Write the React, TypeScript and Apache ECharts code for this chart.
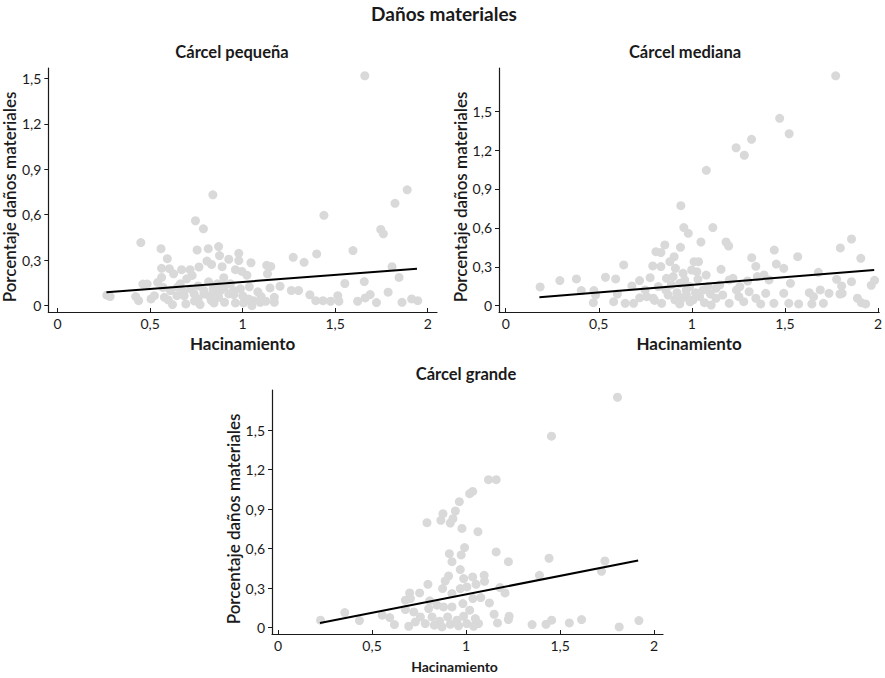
import React, { useEffect, useRef } from "react";
import * as echarts from "echarts";

const mainTitle = "Daños materiales";
const panelTitles = ["Cárcel pequeña", "Cárcel mediana", "Cárcel grande"];
const xName = "Hacinamiento";
const yName = "Porcentaje daños materiales";
const xTicks = [0, 0.5, 1, 1.5, 2];
const yTicks = [0, 0.3, 0.6, 0.9, 1.2, 1.5];

const smallPoints: number[][] = [
  [1.66, 1.517], [0.839, 0.731], [1.889, 0.764], [1.823, 0.675], [1.439, 0.596], [0.745, 0.56], [0.788, 0.507],
  [1.746, 0.503], [1.76, 0.474], [0.45, 0.416], [0.559, 0.376], [0.754, 0.367], [0.814, 0.376], [0.87, 0.39],
  [0.979, 0.345], [1.596, 0.363], [1.4, 0.341], [1.273, 0.319], [1.332, 0.286], [0.593, 0.31], [0.875, 0.33],
  [0.925, 0.306], [0.979, 0.297], [1.045, 0.283], [0.807, 0.294], [0.832, 0.272], [0.764, 0.255], [0.889, 0.257],
  [0.562, 0.246], [0.604, 0.244], [0.67, 0.237], [0.716, 0.237], [0.627, 0.21], [0.727, 0.199], [0.961, 0.237],
  [0.996, 0.226], [1.023, 0.201], [1.13, 0.266], [1.152, 0.259], [1.134, 0.21], [1.807, 0.257], [1.845, 0.186],
  [1.657, 0.159], [1.552, 0.146], [0.562, 0.186], [0.541, 0.153], [0.461, 0.142], [0.484, 0.142], [0.663, 0.144],
  [0.698, 0.177], [0.816, 0.157], [0.863, 0.144], [0.898, 0.184], [0.934, 0.144], [1.036, 0.124], [1.082, 0.091],
  [1.148, 0.117], [1.202, 0.128], [1.263, 0.1], [1.302, 0.1], [1.363, 0.071], [1.786, 0.089], [1.689, 0.073],
  [0.266, 0.069], [0.284, 0.06], [0.422, 0.06], [0.438, 0.033], [0.505, 0.044], [0.523, 0.066], [0.577, 0.055],
  [0.598, 0.038], [0.621, 0.007], [0.645, 0.066], [0.684, 0.066], [0.693, 0.011], [0.738, 0.077], [0.759, 0.044],
  [0.77, 0.007], [0.791, 0.077], [0.818, 0.066], [0.845, 0.018], [0.854, 0.077], [0.88, 0.1], [0.902, 0.022],
  [0.925, 0.077], [0.952, 0.073], [0.961, 0.018], [0.988, 0.111], [1.005, 0.018], [1.032, 0.044], [1.05, 0.0],
  [1.059, 0.033], [1.095, 0.022], [1.125, 0.029], [1.171, 0.055], [1.171, 0.022], [1.395, 0.033], [1.434, 0.033],
  [1.475, 0.029], [1.514, 0.066], [1.52, 0.029], [1.621, 0.029], [1.662, 0.051], [1.723, 0.02], [1.861, 0.022],
  [1.913, 0.044], [1.946, 0.033], [0.648, 0.122], [0.61, 0.1], [0.72, 0.11], [0.76, 0.13], [0.84, 0.11],
  [0.9, 0.12], [0.95, 0.1], [0.83, 0.035], [0.74, 0.03], [1.0, 0.065], [0.57, 0.12], [0.68, 0.09], [0.79, 0.1],
  [0.87, 0.055], [1.1, 0.06],
];

const mediumPoints: number[][] = [
  [1.773, 1.773], [1.472, 1.445], [1.523, 1.326], [1.321, 1.283], [1.238, 1.218], [1.282, 1.16], [1.078, 1.044],
  [0.941, 0.771], [0.957, 0.602], [0.981, 0.558], [1.113, 0.602], [1.049, 0.491], [1.184, 0.491], [1.198, 0.46],
  [1.858, 0.514], [1.798, 0.445], [1.443, 0.429], [1.569, 0.378], [1.454, 0.321], [1.494, 0.288], [1.908, 0.365],
  [1.322, 0.37], [1.344, 0.303], [1.68, 0.257], [0.939, 0.45], [0.855, 0.468], [0.807, 0.416], [0.834, 0.409],
  [0.905, 0.378], [0.882, 0.339], [0.634, 0.314], [0.79, 0.306], [0.834, 0.301], [0.912, 0.288], [0.953, 0.249],
  [1.012, 0.339], [1.036, 0.339], [0.999, 0.275], [1.077, 0.236], [1.157, 0.28], [1.027, 0.262], [0.185, 0.144],
  [0.291, 0.193], [0.38, 0.206], [0.536, 0.219], [0.591, 0.206], [0.406, 0.116], [0.474, 0.116], [0.483, 0.082],
  [0.471, 0.023], [0.58, 0.031], [0.642, 0.018], [0.678, 0.152], [0.719, 0.193], [0.776, 0.216], [0.749, 0.121],
  [0.82, 0.147], [0.864, 0.211], [0.9, 0.224], [0.935, 0.172], [0.962, 0.198], [0.988, 0.147], [1.033, 0.203],
  [1.086, 0.147], [1.13, 0.134], [1.201, 0.198], [1.221, 0.211], [1.258, 0.147], [1.3, 0.19], [1.352, 0.224],
  [1.388, 0.237], [1.415, 0.198], [1.53, 0.172], [1.631, 0.1], [1.69, 0.121], [1.737, 0.095], [1.778, 0.203],
  [1.805, 0.152], [1.808, 0.095], [1.858, 0.185], [1.89, 0.057], [1.911, 0.023], [1.934, 0.013], [1.964, 0.157],
  [1.982, 0.195], [0.687, 0.018], [0.758, 0.069], [0.793, 0.057], [0.838, 0.018], [0.873, 0.082], [0.909, 0.044],
  [0.935, 0.013], [0.971, 0.082], [1.006, 0.044], [1.042, 0.069], [1.068, 0.023], [1.104, 0.005], [1.13, 0.057],
  [1.166, 0.082], [1.201, 0.018], [1.253, 0.069], [1.279, 0.031], [1.308, 0.108], [1.344, 0.057], [1.37, 0.013],
  [1.397, 0.095], [1.441, 0.018], [1.494, 0.095], [1.521, 0.018], [1.574, 0.013], [1.645, 0.013], [1.654, 0.069],
  [1.707, 0.018], [1.796, 0.09], [0.86, 0.12], [0.92, 0.1], [0.97, 0.12], [1.02, 0.1], [1.06, 0.12], [0.89, 0.16],
  [0.95, 0.06], [0.99, 0.03], [1.1, 0.09], [0.8, 0.04], [0.72, 0.06], [0.6, 0.09], [1.15, 0.16], [1.24, 0.12],
];

const largePoints: number[][] = [
  [1.805, 1.751], [1.454, 1.455], [1.119, 1.124], [1.16, 1.124], [1.019, 1.018], [1.035, 1.035], [0.964, 0.957],
  [0.943, 0.886], [0.877, 0.866], [0.93, 0.828], [0.866, 0.815], [0.916, 0.795], [0.792, 0.797], [0.978, 0.754],
  [1.063, 0.729], [0.992, 0.608], [0.911, 0.562], [0.974, 0.552], [1.16, 0.575], [0.925, 0.501], [1.225, 0.501],
  [1.441, 0.527], [1.738, 0.506], [1.72, 0.428], [0.969, 0.441], [1.39, 0.397], [0.907, 0.392], [0.889, 0.354],
  [0.987, 0.372], [1.035, 0.385], [1.096, 0.397], [1.098, 0.352], [1.053, 0.329], [0.797, 0.329], [0.875, 0.296],
  [0.969, 0.296], [1.004, 0.309], [1.18, 0.304], [1.207, 0.263], [0.7, 0.263], [0.753, 0.263], [0.925, 0.258],
  [0.677, 0.208], [0.704, 0.22], [0.806, 0.203], [0.845, 0.17], [0.88, 0.157], [0.983, 0.182], [1.036, 0.22],
  [1.078, 0.228], [1.124, 0.187], [0.677, 0.137], [0.722, 0.119], [0.801, 0.144], [0.925, 0.157], [1.019, 0.132],
  [0.226, 0.056], [0.355, 0.114], [0.433, 0.053], [0.554, 0.094], [0.594, 0.076], [0.619, 0.023], [0.695, 0.01],
  [0.73, 0.043], [0.757, 0.081], [0.783, 0.03], [0.819, 0.081], [0.831, 0.018], [0.859, 0.048], [0.872, 0.005],
  [0.902, 0.081], [0.916, 0.025], [0.951, 0.056], [0.96, 0.013], [0.987, 0.086], [1.004, 0.03], [1.04, 0.01],
  [1.049, 0.068], [1.066, 0.03], [1.149, 0.101], [1.167, 0.035], [1.225, 0.061], [1.229, 0.086], [1.351, 0.023],
  [1.425, 0.025], [1.455, 0.056], [1.549, 0.035], [1.614, 0.061], [1.814, 0.005], [1.919, 0.053],
];

const smallTrend: number[][] = [[0.264, 0.088], [1.942, 0.244]];
const mediumTrend: number[][] = [[0.181, 0.065], [1.98, 0.275]];
const largeTrend: number[][] = [[0.223, 0.035], [1.915, 0.509]];

const FONT = "Lato";
const DOT = "#d9d9d9";
const INK = "#1a1a1a";

const fmtY = (v: number) => (v === 0 ? "0" : v.toFixed(1).replace(".", ","));
const fmtX = (v: number) => String(v).replace(".", ",");

export default function App() {
  const ref = useRef<HTMLDivElement>(null);
  useEffect(() => {
    if (!ref.current) return;
    const chart = echarts.init(ref.current, undefined, { renderer: "svg" });

    const grids = [
      { left: 45, top: 68, width: 392, height: 244 },
      { left: 499, top: 68, width: 384, height: 244 },
      { left: 272, top: 390, width: 391, height: 244 },
    ];
    const xRanges = [
      [-0.05, 2.05],
      [-0.036, 2.007],
      [-0.032, 2.047],
    ];
    const yRanges = [
      [-0.042, 1.568],
      [-0.049, 1.833],
      [-0.049, 1.806],
    ];
    const xNameGap = [23, 23, 25];
    const xNameSize = [17, 17, 14];
    const xNamePad = [
      [0, 0, 0, 0],
      [0, 0, 0, 0],
      [0, 26, 0, 0],
    ];
    const yNameGap = [19, 20, 22];

    const xAxes = grids.map((_, i) => ({
      type: "value",
      gridIndex: i,
      min: xRanges[i][0],
      max: xRanges[i][1],
      name: xName,
      nameLocation: "middle",
      nameGap: xNameGap[i],
      nameTextStyle: {
        fontFamily: FONT,
        fontWeight: "bold",
        fontSize: xNameSize[i],
        lineHeight: xNameSize[i],
        color: INK,
        padding: xNamePad[i],
      },
      splitLine: { show: false },
      axisLine: { show: true, onZero: false, lineStyle: { color: INK, width: 1.2 } },
      axisTick: { show: true, inside: true, length: 4, customValues: xTicks, lineStyle: { color: INK, width: 1 } },
      axisLabel: {
        customValues: xTicks,
        formatter: fmtX,
        fontFamily: FONT,
        fontSize: 14,
        lineHeight: 14,
        color: INK,
        margin: 4,
      },
    }));

    const yAxes = grids.map((_, i) => ({
      type: "value",
      gridIndex: i,
      min: yRanges[i][0],
      max: yRanges[i][1],
      name: yName,
      nameLocation: "middle",
      nameGap: yNameGap[i],
      nameTextStyle: {
        fontFamily: FONT,
        fontWeight: 600,
        fontSize: 17,
        lineHeight: 17,
        color: INK,
        padding: [0, 14, 0, 0],
      },
      splitLine: { show: false },
      axisLine: { show: true, onZero: false, lineStyle: { color: INK, width: 1.2 } },
      axisTick: { show: true, inside: false, length: 4, customValues: yTicks, lineStyle: { color: INK, width: 1 } },
      axisLabel: {
        customValues: yTicks,
        formatter: fmtY,
        fontFamily: FONT,
        fontSize: 14,
        color: INK,
        margin: 7,
      },
    }));

    const pointSets = [smallPoints, mediumPoints, largePoints];
    const trends = [smallTrend, mediumTrend, largeTrend];
    const series: any[] = [];
    pointSets.forEach((pts, i) => {
      series.push({
        type: "scatter",
        xAxisIndex: i,
        yAxisIndex: i,
        data: pts,
        symbolSize: 9,
        itemStyle: { color: DOT, opacity: 1 },
        z: 2,
      });
      series.push({
        type: "line",
        xAxisIndex: i,
        yAxisIndex: i,
        data: trends[i],
        showSymbol: false,
        symbol: "none",
        lineStyle: { color: "#000", width: 2 },
        z: 3,
      });
    });

    const titleStyle = (size: number) => ({
      fontFamily: FONT,
      fontWeight: "bold",
      fontSize: size,
      color: INK,
    });

    chart.setOption({
      animation: false,
      backgroundColor: "#fff",
      title: [
        { text: mainTitle, left: 444, top: 4, textAlign: "center", padding: 0, textStyle: titleStyle(19) },
        { text: panelTitles[0], left: 232, top: 43, textAlign: "center", padding: 0, textStyle: titleStyle(16.5) },
        { text: panelTitles[1], left: 685, top: 43, textAlign: "center", padding: 0, textStyle: titleStyle(16.5) },
        { text: panelTitles[2], left: 466, top: 365, textAlign: "center", padding: 0, textStyle: titleStyle(16.5) },
      ],
      grid: grids,
      xAxis: xAxes,
      yAxis: yAxes,
      series,
    });

    return () => {
      chart.dispose();
    };
  }, []);

  return (
    <div
      ref={ref}
      style={{ position: "fixed", left: 0, top: 0, width: 885, height: 678, background: "#fff" }}
    />
  );
}
